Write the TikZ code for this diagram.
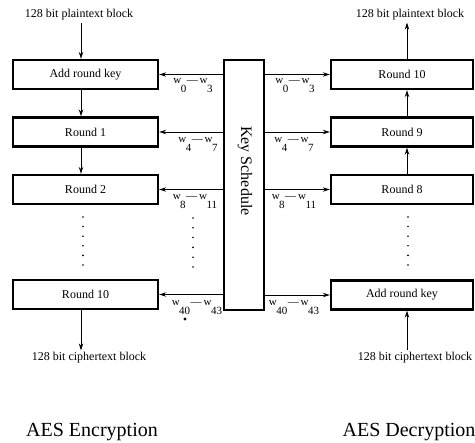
\documentclass[tikz,border=0pt]{standalone}
\usepackage{fontspec}
\setmainfont{Liberation Serif}
\usetikzlibrary{arrows.meta}
\newcommand\wlab[2]{w\kern-0.5pt\raisebox{-8.5pt}{#1}\kern0.5pt—\kern2pt w\kern-0.5pt\raisebox{-8.5pt}{#2}}
\begin{document}
\begin{tikzpicture}[x=1pt,y=-1pt,
  rbox/.style={draw, line width=2.4pt, minimum height=29pt, inner sep=0pt, font=\fontsize{12}{14}\selectfont},
  lbox/.style={rbox, minimum width=145pt},
  dbox/.style={rbox, minimum width=142pt},
  small/.style={font=\fontsize{12}{14}\selectfont, inner sep=2pt},
  big/.style={font=\fontsize{20}{24}\selectfont, inner sep=0pt},
  wl/.style={font=\fontsize{11}{13}\selectfont, inner sep=0pt, anchor=base},
  arr/.style={-{Stealth[length=7pt,width=4.5pt]}, line width=0.8pt},
  dot/.style={fill=black}]
\useasboundingbox (0,0) rectangle (475,443);
% encryption column
\node[lbox] (e0) at (85.5,74.5) {Add round key};
\node[lbox] (e1) at (85.5,132) {Round 1};
\node[lbox] (e2) at (85.5,189.5) {Round 2};
\node[lbox] (e10) at (85.5,294.5) {Round 10};
% decryption column
\node[dbox] (d10) at (402,74.5) {Round 10};
\node[dbox] (d9) at (402,132) {Round 9};
\node[dbox] (d8) at (402,189.5) {Round 8};
\node[dbox] (d0) at (402,295) {Add round key};
% key schedule
\node[draw, line width=2.4pt, minimum width=40pt, minimum height=250pt, inner sep=0pt] (ks) at (244,185) {};
\node[rotate=-90, font=\fontsize{16}{18}\selectfont, inner sep=0pt] (kst) at (245,171) {Key Schedule};
% texts
\node[small] (pt1) at (79,15) {128 bit plaintext block};
\node[small] (pt2) at (410,15) {128 bit plaintext block};
\node[small] (ct1) at (89,358) {128 bit ciphertext block};
\node[small] (ct2) at (415,358) {128 bit ciphertext block};
\node[big] (t1) at (92,432) {AES Encryption};
\node[big] (t2) at (409,432) {AES Decryption};
% vertical arrows
\coordinate (ax) at (81,0);
\coordinate (bx) at (407,0);
\draw[arr] (ax |- pt1.south) -- (ax |- e0.north);
\draw[arr] (ax |- e0.south) -- (ax |- e1.north);
\draw[arr] (ax |- e1.south) -- (ax |- e2.north);
\draw[arr] (ax |- e10.south) -- (ax |- ct1.north);
\draw[arr] (bx |- d10.north) -- (bx |- pt2.south);
\draw[arr] (bx |- d9.north) -- (bx |- d10.south);
\draw[arr] (bx |- d8.north) -- (bx |- d9.south);
\draw[arr] (bx |- ct2.north) -- (bx |- d0.south);
% key arrows
\draw[arr] (ks.west |- e0.east) -- (e0.east);
\draw[arr] (ks.west |- e1.east) -- (e1.east);
\draw[arr] (ks.west |- e2.east) -- (e2.east);
\draw[arr] (ks.west |- e10.east) -- (e10.east);
\draw[arr] (ks.east |- d10.west) -- (d10.west);
\draw[arr] (ks.east |- d9.west) -- (d9.west);
\draw[arr] (ks.east |- d8.west) -- (d8.west);
\draw[arr] (ks.east |- d0.west) -- (d0.west);
% key labels
\node[wl] (l0) at (193,84) {\wlab{0}{3}};
\node[wl] (l1) at (198,143) {\wlab{4}{7}};
\node[wl] (l2) at (195,200) {\wlab{8}{11}};
\node[wl] (l3) at (197,306) {\wlab{40}{43}};
\node[wl] (r0) at (295,84) {\wlab{0}{3}};
\node[wl] (r1) at (294,143) {\wlab{4}{7}};
\node[wl] (r2) at (294,200) {\wlab{8}{11}};
\node[wl] (r3) at (294,306) {\wlab{40}{43}};
% dots
\foreach \i in {0,...,5} {
  \fill[dot] (83,{217+\i*9.6}) circle (0.9pt);
  \fill[dot] (193,{218+\i*9.8}) circle (0.9pt);
  \fill[dot] (408,{217+\i*9.6}) circle (0.9pt);
}
\fill[dot] (185,319) circle (1.6pt);
\end{tikzpicture}
\end{document}
